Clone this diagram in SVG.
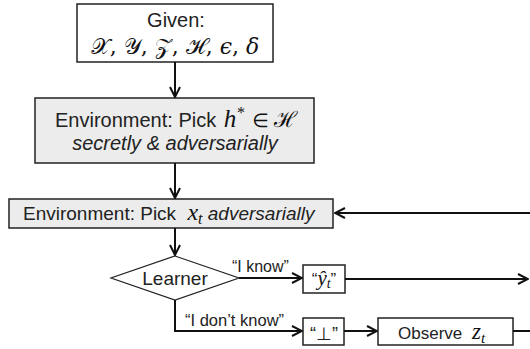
<svg xmlns="http://www.w3.org/2000/svg" width="530" height="349" viewBox="0 0 530 349">
<style>
.box{fill:#fff;stroke:#222;stroke-width:1.5}
.gbox{fill:#ececec;stroke:#222;stroke-width:1.5}
.t{font-family:"Liberation Sans",Arial,sans-serif;fill:#222}
.m{font-family:"Liberation Serif","DejaVu Serif",serif;font-style:italic;fill:#111}
.c{fill:none;stroke:#111;stroke-width:2}
</style>
<defs>
<marker id="ah" viewBox="0 0 12 12" markerWidth="12" markerHeight="12" refX="11" refY="6" orient="auto" markerUnits="userSpaceOnUse">
<path d="M1,1 L11,6 L1,11" fill="none" stroke="#111" stroke-width="2"/>
</marker>
</defs>
<g id="given">
<rect class="box" x="77" y="4" width="196" height="58"/>
<text class="t" x="176" y="27" font-size="20" text-anchor="middle">Given:</text>
<text x="175" y="54" font-size="22" text-anchor="middle" font-family="'DejaVu Serif','Liberation Serif',serif" fill="#111">𝒳, 𝒴, 𝒵, ℋ, <tspan font-style="italic">ϵ</tspan>, <tspan font-style="italic">δ</tspan></text>
</g>
<g id="pick_h">
<rect class="gbox" x="35" y="98" width="279" height="65"/>
<text class="t" x="55" y="127" font-size="20">Environment: Pick <tspan class="m" font-size="25" dx="2">h</tspan><tspan class="m" font-size="16" dy="-9">*</tspan><tspan font-family="'DejaVu Sans',sans-serif" font-size="19" dy="9" dx="8" fill="#111">∈</tspan><tspan font-family="'DejaVu Serif',serif" font-size="22" dx="5" fill="#111">ℋ</tspan></text>
<text class="t" x="175" y="150" font-size="20" font-style="italic" text-anchor="middle">secretly &amp; adversarially</text>
</g>
<g id="pick_x">
<rect class="gbox" x="9" y="199" width="324" height="29"/>
<text class="t" x="23" y="220" font-size="19">Environment: Pick <tspan class="m" font-size="24" dx="6">x</tspan><tspan class="m" font-size="16" dy="4">t</tspan><tspan font-style="italic" dy="-4"> adversarially</tspan></text>
</g>
<g id="learner">
<polygon points="175,256 239,278 175,300 111,278" fill="#fff" stroke="#222" stroke-width="1.2"/>
<text class="t" x="175" y="285" font-size="19" text-anchor="middle">Learner</text>
</g>
<g id="yhat">
<rect class="box" x="303" y="265" width="42" height="28"/>
<text x="324" y="285" text-anchor="middle" font-size="17"><tspan class="t">“</tspan><tspan class="m" font-size="21">ŷ</tspan><tspan class="m" font-size="14" dy="3">t</tspan><tspan class="t" dy="-3">”</tspan></text>
</g>
<g id="bottom">
<rect class="box" x="303" y="318" width="41" height="27"/>
<text class="t" x="324" y="340" font-size="18" text-anchor="middle">“⊥”</text>
</g>
<g id="observe">
<rect class="box" x="378" y="318" width="135" height="27"/>
<text class="t" x="398" y="339" font-size="17">Observe <tspan class="m" font-size="23" dx="5">z</tspan><tspan class="m" font-size="15" dy="4">t</tspan></text>
</g>
<g id="connectors">
<line class="c" x1="175" y1="62" x2="175" y2="97" marker-end="url(#ah)"/>
<line class="c" x1="175" y1="163" x2="175" y2="198" marker-end="url(#ah)"/>
<line class="c" x1="175" y1="228" x2="175" y2="255" marker-end="url(#ah)"/>
<line class="c" x1="530" y1="213" x2="335" y2="213" marker-end="url(#ah)"/>
<line class="c" x1="239" y1="278" x2="302" y2="278" marker-end="url(#ah)"/>
<line class="c" x1="345" y1="279" x2="528" y2="279" marker-end="url(#ah)"/>
<polyline class="c" points="175,300 175,331 302,331" marker-end="url(#ah)"/>
<line class="c" x1="344" y1="331" x2="377" y2="331" marker-end="url(#ah)"/>
<line class="c" x1="513" y1="331" x2="530" y2="331"/>
<text class="t" x="232" y="272" font-size="16">“I know”</text>
<text class="t" x="185" y="326" font-size="16.5">“I don’t know”</text>
</g>
</svg>
